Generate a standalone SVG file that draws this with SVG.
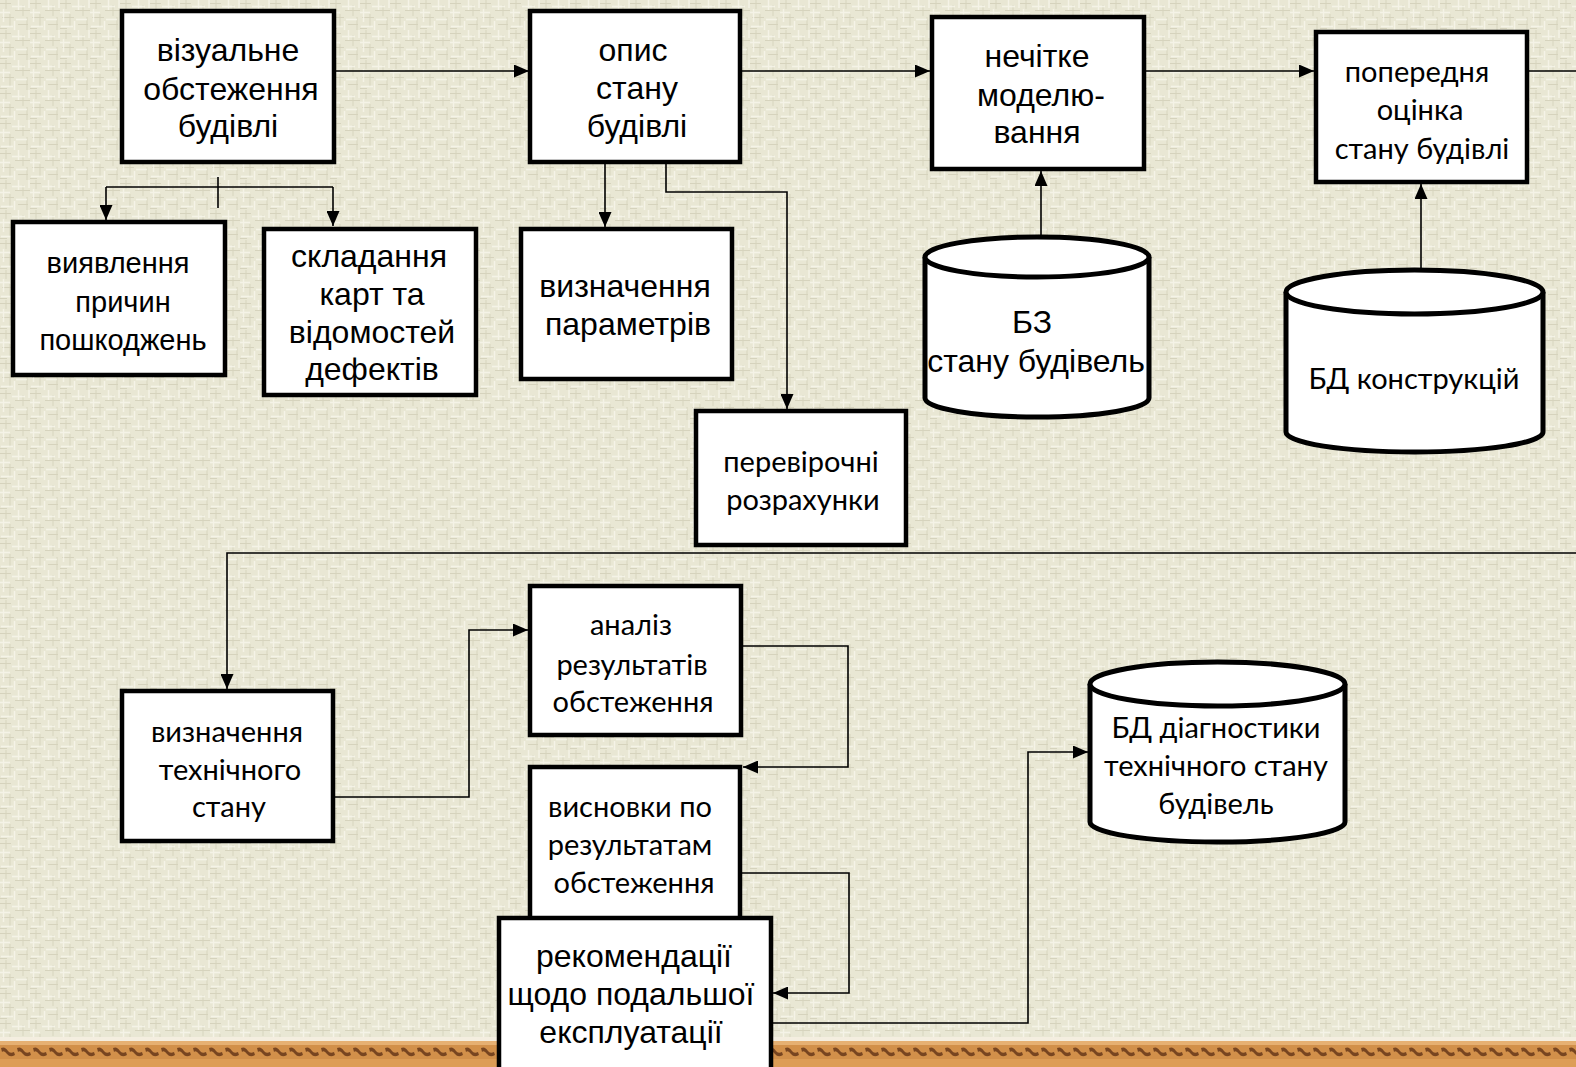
<svg xmlns="http://www.w3.org/2000/svg" width="1576" height="1067" viewBox="0 0 1576 1067">
<defs>
<style>
.box{fill:#fff;stroke:#000;stroke-width:4.5}
.cyl{fill:#fff;stroke:#000;stroke-width:5}
.ln{fill:none;stroke:#000;stroke-width:1.6}
.a{font-family:"Liberation Sans",Arial,sans-serif;font-size:32px;text-anchor:middle;fill:#000}
.as{font-size:29px}
.c{font-family:Lato,"Open Sans",sans-serif;font-size:29px;text-anchor:middle;fill:#000}
</style>
<marker id="arr" viewBox="0 0 15 13" refX="15" refY="6.5" markerWidth="15" markerHeight="13" orient="auto" markerUnits="userSpaceOnUse">
<path d="M0,0 L15,6.5 L0,13 z" fill="#000"/>
</marker>
<pattern id="tex" width="30" height="30" patternUnits="userSpaceOnUse">
<rect width="30" height="30" fill="#e9e7d4"/>
<path d="M0,3.5 H11 M15,10.5 H30 M2,17.5 H14 M18,24.5 H28 M6,0 V9 M23,5 V16 M10,14 V27 M27,17 V30 M0,28.5 H7" stroke="#c6c3aa" stroke-width="1" opacity="0.55"/>
<path d="M12,6.5 H25 M0,12.5 H10 M16,19.5 H27 M1,26.5 H13 M3.5,9 V22 M18.5,0 V10 M14.5,21 V30 M29,0 V8" stroke="#f8f7ec" stroke-width="1.4" opacity="0.8"/>
</pattern>
<pattern id="band" width="16" height="26" patternUnits="userSpaceOnUse" y="1041">
<rect width="16" height="26" fill="#d2904a"/>
<rect y="0" width="16" height="4" fill="#e6b072"/>
<path d="M1,7 Q5,5 8,10 Q10,13 14,11 L15,14 Q10,17 7,13 Q4,9 2,11 z" fill="#6e3d1c" opacity="0.9"/>
<rect y="18" width="16" height="8" fill="#e2a35c" opacity="0.7"/>
</pattern>
</defs>
<rect width="1576" height="1067" fill="url(#tex)"/>
<rect x="0" y="1037" width="1576" height="4" fill="#f4eee0"/>
<rect x="0" y="1041" width="1576" height="26" fill="url(#band)"/>

<g id="connectors">
<path class="ln" d="M336,71 H529" marker-end="url(#arr)"/>
<path class="ln" d="M742,71 H930" marker-end="url(#arr)"/>
<path class="ln" d="M1146,71 H1314" marker-end="url(#arr)"/>
<path class="ln" d="M1529,71 H1576"/>
<path class="ln" d="M1576,553 H227 V689" marker-end="url(#arr)"/>
<path class="ln" d="M218,177 V208"/>
<path class="ln" d="M106,187 H333"/>
<path class="ln" d="M106,187 V220" marker-end="url(#arr)"/>
<path class="ln" d="M333,187 V226" marker-end="url(#arr)"/>
<path class="ln" d="M605,163 V227" marker-end="url(#arr)"/>
<path class="ln" d="M666,163 V192 H787 V409" marker-end="url(#arr)"/>
<path class="ln" d="M1041,237 V171" marker-end="url(#arr)"/>
<path class="ln" d="M1421,270 V184" marker-end="url(#arr)"/>
<path class="ln" d="M335,797 H469 V630 H528" marker-end="url(#arr)"/>
<path class="ln" d="M743,646 H848 V767 H743" marker-end="url(#arr)"/>
<path class="ln" d="M742,873 H849 V993 H773" marker-end="url(#arr)"/>
<path class="ln" d="M773,1023 H1028 V752 H1088" marker-end="url(#arr)"/>
</g>

<g id="n-vizualne">
<rect class="box" x="122" y="11" width="212" height="151"/>
<text class="a" x="228" y="61">візуальне</text>
<text class="a" x="231" y="100">обстеження</text>
<text class="a" x="228" y="137">будівлі</text>
</g>
<g id="n-opys">
<rect class="box" x="530" y="11" width="210" height="151"/>
<text class="a" x="633" y="61">опис</text>
<text class="a" x="637" y="99">стану</text>
<text class="a" x="637" y="137">будівлі</text>
</g>
<g id="n-nechitke">
<rect class="box" x="932" y="17" width="212" height="152"/>
<text class="a" x="1037" y="67">нечітке</text>
<text class="a" x="1041" y="106">моделю-</text>
<text class="a" x="1037" y="143">вання</text>
</g>
<g id="n-poperednia">
<rect class="box" x="1316" y="32" width="211" height="150"/>
<text class="c" x="1417" y="82">попередня</text>
<text class="c" x="1420" y="120">оцінка</text>
<text class="c" x="1422" y="159">стану будівлі</text>
</g>
<g id="n-vyiavlennia">
<rect class="box" x="13" y="222" width="212" height="153"/>
<text class="a as" x="118" y="273">виявлення</text>
<text class="a as" x="123" y="312">причин</text>
<text class="a as" x="123" y="350">пошкоджень</text>
</g>
<g id="n-skladannia">
<rect class="box" x="264" y="229" width="212" height="166"/>
<text class="a" x="369" y="267">складання</text>
<text class="a" x="372" y="305">карт та</text>
<text class="a" x="372" y="343">відомостей</text>
<text class="a" x="372" y="380">дефектів</text>
</g>
<g id="n-parametry">
<rect class="box" x="521" y="229" width="211" height="150"/>
<text class="a" x="625" y="297">визначення</text>
<text class="a" x="628" y="335">параметрів</text>
</g>
<g id="n-perevirochni">
<rect class="box" x="696" y="411" width="210" height="134"/>
<text class="c" x="801" y="472">перевірочні</text>
<text class="c" x="803" y="510">розрахунки</text>
</g>
<g id="n-bz">
<path class="cyl" d="M925,257 V398 A112,19 0 0 0 1149,398 V257"/>
<ellipse class="cyl" cx="1037" cy="257" rx="112" ry="20"/>
<text class="a" x="1032" y="333">БЗ</text>
<text class="a" x="1036" y="372">стану будівель</text>
</g>
<g id="n-bd-konstr">
<path class="cyl" d="M1286,292 V432 A128.5,20 0 0 0 1543,432 V292"/>
<ellipse class="cyl" cx="1414.5" cy="292" rx="128.5" ry="22"/>
<text class="c" x="1414" y="389">БД конструкцій</text>
</g>
<g id="n-tekhnichnyi">
<rect class="box" x="122" y="691" width="211" height="150"/>
<text class="c" x="227" y="742">визначення</text>
<text class="c" x="230" y="780">технічного</text>
<text class="c" x="229" y="817">стану</text>
</g>
<g id="n-analiz">
<rect class="box" x="530" y="586" width="211" height="149"/>
<text class="c" x="631" y="635">аналіз</text>
<text class="c" x="632" y="675">результатів</text>
<text class="c" x="633" y="712">обстеження</text>
</g>
<g id="n-vysnovky">
<rect class="box" x="530" y="767" width="210" height="160"/>
<text class="c" x="630" y="817">висновки по</text>
<text class="c" x="630" y="855">результатам</text>
<text class="c" x="634" y="893">обстеження</text>
</g>
<g id="n-rekomendatsii">
<rect class="box" x="499" y="918" width="272" height="160"/>
<text class="a" x="634" y="967">рекомендації</text>
<text class="a" x="631" y="1005">щодо подальшої</text>
<text class="a" x="631" y="1043">експлуатації</text>
</g>
<g id="n-bd-diag">
<path class="cyl" d="M1090,684 V822 A127.5,20 0 0 0 1345,822 V684"/>
<ellipse class="cyl" cx="1217.5" cy="684" rx="127.5" ry="22"/>
<text class="c" x="1216" y="738">БД діагностики</text>
<text class="c" x="1216" y="776">технічного стану</text>
<text class="c" x="1216" y="814">будівель</text>
</g>
</svg>
